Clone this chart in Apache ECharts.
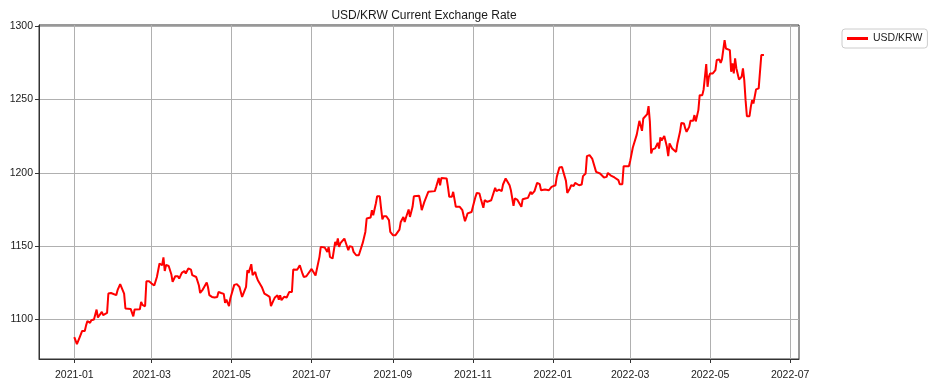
<!DOCTYPE html>
<html>
<head>
<meta charset="utf-8">
<script src="https://cdn.jsdelivr.net/npm/echarts@6/dist/echarts.min.js"></script>
<style>
html,body{margin:0;padding:0;background:#fff;}
#chart{width:938px;height:386px;}
</style>
</head>
<body>
<div id="chart"></div>
<script>
const chartTitle = 'USD/KRW Current Exchange Rate';
const seriesName = 'USD/KRW';
const xTickMonths = ['2021-01','2021-03','2021-05','2021-07','2021-09','2021-11','2022-01','2022-03','2022-05','2022-07'];
const yTicks = [1100, 1150, 1200, 1250, 1300];
const xRange = ['2020-12-05T02:00:00', '2022-07-07T18:00:00'];
const yRange = [1073.1, 1300.7];

const dates = [
'2021-01-01','2021-01-02','2021-01-03','2021-01-05','2021-01-06','2021-01-07','2021-01-09','2021-01-10','2021-01-11','2021-01-13',
'2021-01-14','2021-01-16','2021-01-18','2021-01-19','2021-01-22','2021-01-23','2021-01-26','2021-01-27','2021-01-29','2021-02-02',
'2021-02-03','2021-02-05','2021-02-06','2021-02-08','2021-02-09','2021-02-13','2021-02-14','2021-02-15','2021-02-16','2021-02-20',
'2021-02-21','2021-02-22','2021-02-24','2021-02-25','2021-02-27','2021-03-01','2021-03-03','2021-03-05','2021-03-06','2021-03-07',
'2021-03-09','2021-03-10','2021-03-11','2021-03-12','2021-03-14','2021-03-16','2021-03-17','2021-03-19','2021-03-21','2021-03-22',
'2021-03-24','2021-03-26','2021-03-27','2021-03-29','2021-03-31','2021-04-01','2021-04-04','2021-04-06','2021-04-07','2021-04-09',
'2021-04-10','2021-04-12','2021-04-13','2021-04-14','2021-04-16','2021-04-18','2021-04-20','2021-04-21','2021-04-23','2021-04-25',
'2021-04-26','2021-04-27','2021-04-29','2021-04-30','2021-05-01','2021-05-03','2021-05-05','2021-05-07','2021-05-09','2021-05-10',
'2021-05-12','2021-05-13','2021-05-14','2021-05-16','2021-05-17','2021-05-19','2021-05-20','2021-05-21','2021-05-24','2021-05-26',
'2021-05-28','2021-05-30','2021-05-31','2021-06-02','2021-06-03','2021-06-05','2021-06-06','2021-06-07','2021-06-08','2021-06-10',
'2021-06-12','2021-06-14','2021-06-16','2021-06-17','2021-06-20','2021-06-21','2021-06-22','2021-06-24','2021-06-25','2021-06-27',
'2021-07-01','2021-07-04','2021-07-05','2021-07-07','2021-07-08','2021-07-11','2021-07-13','2021-07-14','2021-07-15','2021-07-17',
'2021-07-19','2021-07-20','2021-07-21','2021-07-22','2021-07-23','2021-07-24','2021-07-26','2021-07-27','2021-07-29','2021-07-30',
'2021-08-01','2021-08-02','2021-08-04','2021-08-06','2021-08-07','2021-08-09','2021-08-11','2021-08-12','2021-08-15','2021-08-16',
'2021-08-17','2021-08-19','2021-08-20','2021-08-22','2021-08-23','2021-08-24','2021-08-25','2021-08-27','2021-08-29','2021-08-30',
'2021-09-01','2021-09-03','2021-09-04','2021-09-06','2021-09-07','2021-09-09','2021-09-10','2021-09-11','2021-09-13','2021-09-14',
'2021-09-16','2021-09-17','2021-09-21','2021-09-22','2021-09-23','2021-09-25','2021-09-26','2021-09-28','2021-10-03','2021-10-04',
'2021-10-06','2021-10-07','2021-10-08','2021-10-12','2021-10-13','2021-10-14','2021-10-16','2021-10-17','2021-10-19','2021-10-22',
'2021-10-24','2021-10-25','2021-10-26','2021-10-28','2021-10-29','2021-10-31','2021-11-01','2021-11-03','2021-11-04','2021-11-06',
'2021-11-07','2021-11-09','2021-11-10','2021-11-12','2021-11-15','2021-11-16','2021-11-18','2021-11-19','2021-11-21','2021-11-23',
'2021-11-24','2021-11-26','2021-11-27','2021-11-29','2021-11-30','2021-12-02','2021-12-03','2021-12-05','2021-12-06','2021-12-08',
'2021-12-09','2021-12-11','2021-12-13','2021-12-15','2021-12-16','2021-12-18','2021-12-20','2021-12-22','2021-12-23','2021-12-26',
'2021-12-29','2021-12-31','2022-01-03','2022-01-04','2022-01-06','2022-01-08','2022-01-09','2022-01-11','2022-01-12','2022-01-14',
'2022-01-15','2022-01-17','2022-01-18','2022-01-21','2022-01-23','2022-01-24','2022-01-26','2022-01-27','2022-01-29','2022-01-31',
'2022-02-01','2022-02-03','2022-02-04','2022-02-06','2022-02-07','2022-02-09','2022-02-11','2022-02-12','2022-02-14','2022-02-15',
'2022-02-17','2022-02-18','2022-02-20','2022-02-21','2022-02-23','2022-02-24','2022-02-28','2022-03-01','2022-03-03','2022-03-04',
'2022-03-06','2022-03-08','2022-03-09','2022-03-10','2022-03-11','2022-03-12','2022-03-14','2022-03-15','2022-03-16','2022-03-17',
'2022-03-18','2022-03-20','2022-03-22','2022-03-23','2022-03-24','2022-03-25','2022-03-27','2022-03-28','2022-03-29','2022-03-30',
'2022-03-31','2022-04-02','2022-04-03','2022-04-05','2022-04-06','2022-04-08','2022-04-09','2022-04-11','2022-04-12','2022-04-13',
'2022-04-15','2022-04-16','2022-04-18','2022-04-19','2022-04-20','2022-04-22','2022-04-23','2022-04-25','2022-04-26','2022-04-27',
'2022-04-28','2022-04-29','2022-04-30','2022-05-01','2022-05-03','2022-05-05','2022-05-06','2022-05-08','2022-05-09','2022-05-10',
'2022-05-12','2022-05-13','2022-05-14','2022-05-16','2022-05-17','2022-05-18','2022-05-19','2022-05-20','2022-05-21','2022-05-22',
'2022-05-23','2022-05-25','2022-05-26','2022-05-27','2022-05-28','2022-05-29','2022-05-31','2022-06-01','2022-06-02','2022-06-03',
'2022-06-05','2022-06-07','2022-06-08','2022-06-09','2022-06-11'
];

const rates = [
1088,1088,1083.2,1087.7,1086.4,1092.2,1092.2,1096,1099,1097.7,
1099.5,1100,1106.8,1101.4,1105.2,1103,1104.5,1117.7,1118.1,1116.6,
1120,1124.1,1123.6,1117.7,1107.5,1107.2,1105.9,1102.2,1106.8,1107,
1112,1110,1109,1126.1,1126.1,1124.5,1123.2,1129,1129,1138.2,
1137,1142.3,1133.1,1137.2,1136.5,1130.9,1125.6,1129.5,1129.5,1127.9,
1131.8,1133.1,1131.4,1134.8,1134,1130.2,1129,1123.4,1118.1,1120.4,
1120.5,1125.2,1122,1116.6,1115.4,1115,1115.4,1118.8,1118.1,1117.5,
1111.3,1113.6,1109.1,1114.3,1114.5,1123.6,1124.1,1122.2,1115.4,1114.3,
1122.2,1133.6,1131.8,1137.7,1130.2,1132.4,1129,1126.8,1122.2,1117.7,
1116.6,1115.5,1109.1,1113.2,1115,1116.6,1113.5,1116.6,1113.2,1115.5,
1115,1118.8,1118.8,1134.1,1134,1135.4,1137,1131.4,1129,1129.5,
1134.5,1130,1130,1142.7,1149.5,1149.1,1146.1,1149.5,1142.7,1141.6,
1152.9,1150.6,1155.2,1149.5,1152,1151.8,1155.2,1154.5,1147.2,1150,
1149.5,1146.1,1143.8,1143.8,1145,1152.2,1159.7,1168.8,1169.5,1174.5,
1171.1,1179.1,1184,1184,1175.7,1168.2,1170.4,1170.4,1167.7,1159.7,
1157.5,1157.5,1156.8,1161.3,1166.5,1169.9,1166.5,1169.5,1175,1169.9,
1176.8,1184,1184.3,1180.2,1174.5,1180.2,1181,1187,1187.5,1190.4,
1196.5,1191.5,1196.5,1196.1,1190.4,1183.6,1183.6,1187,1176.8,1176.8,
1174.5,1170.6,1167,1172.3,1171.5,1173.3,1176.8,1183.6,1186.3,1185.9,
1182.5,1176.1,1181.3,1180.2,1181.3,1182,1189.7,1187.5,1188.5,1187.5,
1192,1196.1,1196.1,1191.5,1188.1,1177.4,1182.5,1181.5,1182.5,1176.8,
1182,1182.5,1182.9,1187,1185.4,1187.5,1193.1,1192.2,1188.1,1188.6,
1188.1,1190.4,1191.5,1197.2,1203.6,1204,1200.6,1194.5,1186.3,1189.3,
1191.5,1191,1193.1,1191.5,1192,1197.7,1199.5,1211.3,1212,1209.7,
1208.6,1200.6,1200.4,1199.5,1200.6,1196.8,1197.2,1199.9,1198.3,1197.7,
1196.8,1196.8,1195,1192.2,1192.2,1204.5,1204.5,1208.1,1217.2,1217.2,
1226,1235.4,1235,1228.6,1237,1237.7,1240,1245.4,1235,1213.2,
1215.9,1216.6,1220.4,1216.5,1224.1,1222,1225,1224.5,1217.7,1211.3,
1220,1216.6,1217,1214.2,1220,1227.9,1234,1233.6,1230.2,1227.9,
1231.3,1235.4,1235.5,1239.3,1235,1242.7,1252.9,1252.9,1256.8,1265.4,
1274,1258.6,1265.4,1267.7,1267.7,1269.9,1276.8,1277.2,1274.9,1277.2,
1290.4,1284.7,1284.7,1283.6,1268.8,1274.5,1267.7,1277.9,1271.1,1272,
1263.6,1265.4,1271.1,1263.1,1249.5,1238.6,1238.6,1244.9,1249.5,1247.2,
1256.8,1257.5,1256.3,1280.2,1280.2
];

const chart = echarts.init(document.getElementById('chart'), null, {renderer: 'canvas'});
const font = "'Liberation Sans', Arial, sans-serif";
const toTime = s => new Date(s.length === 10 ? s + 'T00:00:00' : s).getTime();
const xTickValues = xTickMonths.map(m => toTime(m + '-01'));

function fmtMonth(v) {
  const d = new Date(v);
  return d.getFullYear() + '-' + String(d.getMonth() + 1).padStart(2, '0');
}

chart.setOption({
  animation: false,
  backgroundColor: '#ffffff',
  title: {
    text: chartTitle,
    left: 419,
    textAlign: 'center',
    top: 5,
    textStyle: {fontFamily: font, fontSize: 12, fontWeight: 'normal', color: '#1a1a1a'}
  },
  legend: {
    data: [seriesName],
    left: 842,
    top: 29,
    orient: 'vertical',
    icon: 'rect',
    itemWidth: 21,
    itemHeight: 3,
    itemGap: 6,
    padding: [4, 5, 4, 5],
    borderColor: '#cccccc',
    borderWidth: 1,
    borderRadius: 3,
    textStyle: {fontFamily: font, fontSize: 10.5, color: '#1a1a1a'}
  },
  grid: {
    left: 39, right: 139, top: 25, bottom: 27,
    show: true, borderColor: '#333', borderWidth: 1, containLabel: false
  },
  xAxis: {
    type: 'value',
    min: toTime(xRange[0]),
    max: toTime(xRange[1]),
    axisLine: {show: true, onZero: false, lineStyle: {color: '#333', width: 1}},
    axisTick: {show: true, inside: false, length: 4, lineStyle: {color: '#333'}, customValues: xTickValues},
    axisLabel: {
      customValues: xTickValues,
      formatter: fmtMonth,
      fontFamily: font, fontSize: 10.5, color: '#1a1a1a', margin: 11
    },
    splitLine: {show: true, lineStyle: {color: '#b0b0b0', width: 1}}
  },
  yAxis: {
    type: 'value',
    min: yRange[0],
    max: yRange[1],
    axisLine: {show: true, lineStyle: {color: '#333', width: 1}},
    axisTick: {show: true, inside: false, length: 4, lineStyle: {color: '#333'}, customValues: yTicks},
    axisLabel: {
      customValues: yTicks,
      formatter: v => String(Math.round(v)),
      fontFamily: font, fontSize: 10.5, color: '#1a1a1a', margin: 6
    },
    splitLine: {show: true, lineStyle: {color: '#b0b0b0', width: 1}}
  },
  series: [{
    name: seriesName,
    type: 'line',
    data: dates.map((d, i) => [toTime(d), rates[i]]),
    showSymbol: false,
    symbol: 'none',
    lineStyle: {color: '#ff0000', width: 2},
    itemStyle: {color: '#ff0000'}
  }]
});
</script>
</body>
</html>
